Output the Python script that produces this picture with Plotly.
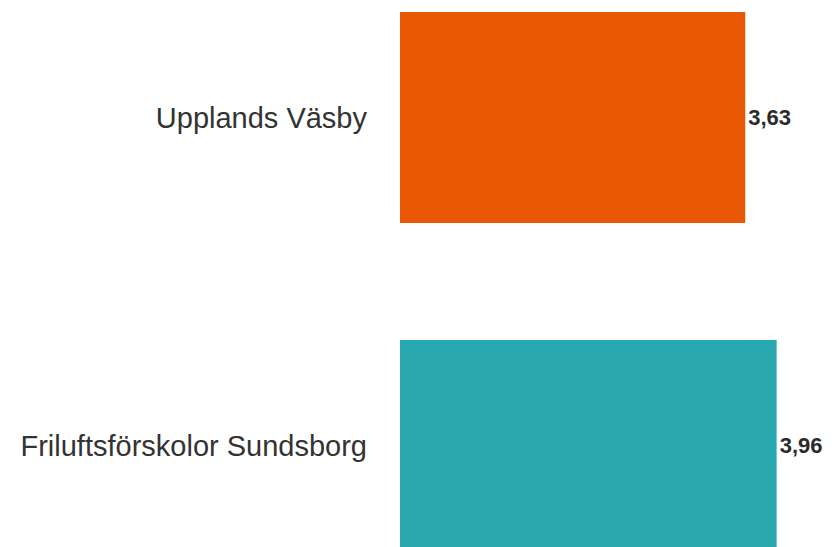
import plotly.graph_objects as go

categories = ["Upplands Väsby", "Friluftsförskolor Sundsborg"]
values = [3.63, 3.96]
colors = ["#E95804", "#29A8B0"]

fig = go.Figure(
    go.Bar(
        x=values,
        y=categories,
        orientation="h",
        marker=dict(color=colors, line=dict(width=0)),
        width=0.643,
        text=values,
        texttemplate="%{x:.2f}",
        textposition="outside",
        cliponaxis=False,
        textfont=dict(family="Liberation Sans, Arial, sans-serif", size=22, color="#2b2b2b", weight="bold"),
        hoverinfo="skip",
    )
)

# the page body has an 8px margin, so the figure is sized to fit the window
fig.update_layout(
    width=825,
    height=539,
    margin=dict(l=391.5, r=4.5, t=0, b=0, pad=0),
    paper_bgcolor="white",
    plot_bgcolor="white",
    separators=", ",
    showlegend=False,
    font=dict(family="Liberation Sans, Arial, sans-serif", color="#333333"),
)
fig.update_xaxes(
    range=[0, 4.5],
    visible=False,
    showgrid=False,
    zeroline=False,
)
fig.update_yaxes(
    type="category",
    range=[1.3095, -0.3338],
    showgrid=False,
    zeroline=False,
    showline=False,
    ticks="",
    ticklabelstandoff=32,
    tickfont=dict(family="Liberation Sans, Arial, sans-serif", size=29, color="#333333"),
)

fig.write_html("out.html")
